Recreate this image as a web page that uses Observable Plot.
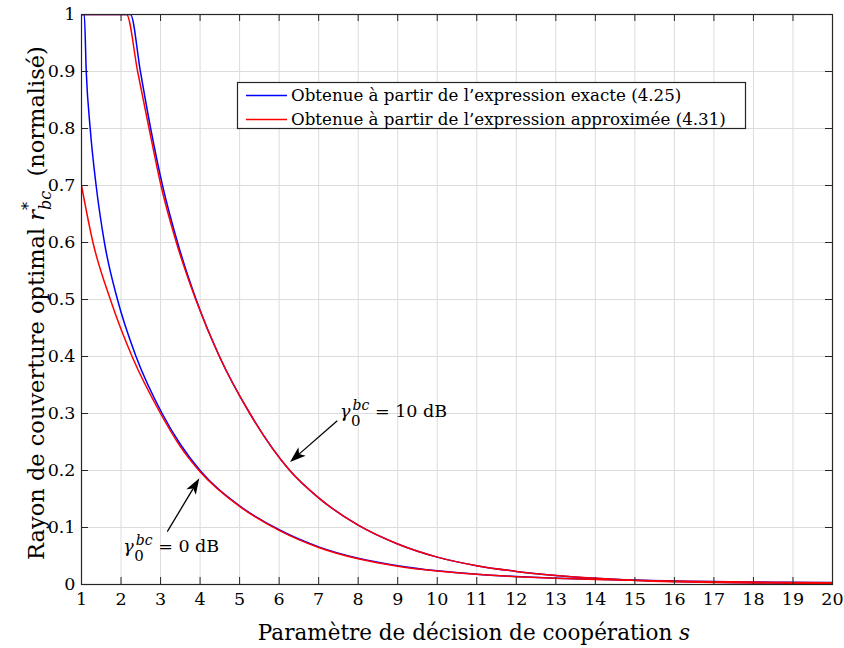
<!DOCTYPE html>
<html>
<head>
<meta charset="utf-8">
<script src="https://cdn.jsdelivr.net/npm/d3@7"></script>
<script src="https://cdn.jsdelivr.net/npm/@observablehq/plot@0.6"></script>
<style>
  html, body { margin: 0; padding: 0; background: #fff; }
  #chart { width: 844px; height: 648px; }
</style>
</head>
<body>
<div id="chart"></div>
<script>
// ---- ticks ----
const xTicks = [1,2,3,4,5,6,7,8,9,10,11,12,13,14,15,16,17,18,19,20];
const yTicks = [0,0.1,0.2,0.3,0.4,0.5,0.6,0.7,0.8,0.9,1];
const yTickLabels = ["0","0.1","0.2","0.3","0.4","0.5","0.6","0.7","0.8","0.9","1"];

// ---- gamma = 0 dB, exact expression (4.25) ----
const s_exact_0dB = [1,1.07,1.12,1.22,1.37,1.58,1.91,2.38,3.04,3.5,4,5,6,7,8,9,10,11,12,13,14,15,16,17,18,19,20];
const r_exact_0dB = [1,1,0.9,0.8,0.7,0.6,0.5,0.4,0.3,0.246,0.2,0.138,0.096,0.066,0.046,0.033,0.024,0.018,0.014,0.011,0.009,0.0075,0.0062,0.0052,0.0044,0.0038,0.0033];

// ---- gamma = 0 dB, approximate expression (4.31) ----
const s_approx_0dB = [1,1.29,1.73,2.28,3,3.5,4,5,6,7,8,9,10,11,12,13,14,15,16,17,18,19,20];
const r_approx_0dB = [0.7,0.6,0.5,0.4,0.3,0.242,0.198,0.137,0.095,0.065,0.045,0.032,0.0235,0.0178,0.0138,0.0108,0.0088,0.0073,0.006,0.005,0.0043,0.0037,0.0032];

// ---- gamma = 10 dB, exact expression (4.25) ----
const s_exact_10dB = [1,2.24,2.49,2.75,3.05,3.43,3.9,4.49,5.26,6.27,7,8,9,10,11,12,13,14,15,16,17,18,19,20];
const r_exact_10dB = [1,1,0.9,0.8,0.7,0.6,0.5,0.4,0.3,0.2,0.152,0.104,0.071,0.048,0.033,0.023,0.016,0.011,0.0075,0.0053,0.004,0.003,0.0024,0.002];

// ---- gamma = 10 dB, approximate expression (4.31) ----
const s_approx_10dB = [1,2.14,2.42,2.71,3.01,3.4,3.89,4.49,5.26,6.27,7,8,9,10,11,12,13,14,15,16,17,18,19,20];
const r_approx_10dB = [1,1,0.9,0.8,0.7,0.6,0.5,0.4,0.3,0.2,0.152,0.104,0.071,0.048,0.033,0.023,0.016,0.0108,0.0072,0.005,0.0037,0.0028,0.0022,0.0018];

// ---- legend / annotations ----
const legendLabels = ["Obtenue à partir de l’expression exacte (4.25)", "Obtenue à partir de l’expression approximée (4.31)"];
const seriesColors = ["#0000ff", "#ff0000"];
const annotRest = [" = 0 dB", " = 10 dB"];
const annotAt_s = [2.07, 7.553];
const annotAt_r = [0.0567, 0.293];
const arrowFrom_s = [3.183, 7.484];
const arrowFrom_r = [0.0918, 0.2865];
const arrowTo_s = [3.993, 6.288];
const arrowTo_r = [0.1854, 0.214];
const xLabel = "Paramètre de décision de coopération ";

function rows(s, r, series) { return s.map((v, i) => ({s: v, r: r[i], series})); }
const blueRows = [...rows(s_exact_0dB, r_exact_0dB, "0dB"), ...rows(s_exact_10dB, r_exact_10dB, "10dB")];
const redRows = [...rows(s_approx_0dB, r_approx_0dB, "0dB"), ...rows(s_approx_10dB, r_approx_10dB, "10dB")];

const W = 844, H = 648, mL = 81, mR = 12, mT = 14, mB = 64;
const plotW = W - mL - mR, plotH = H - mT - mB;
const FONT = "'DejaVu Serif', 'Liberation Serif', serif";
const INK = "#262626";

const plot = Plot.plot({
  width: W, height: H,
  marginLeft: mL, marginRight: mR, marginTop: mT, marginBottom: mB,
  style: {fontFamily: FONT, fontSize: "17.5px", color: "#000", background: "#fff", overflow: "visible"},
  x: {domain: [1, 20], label: null},
  y: {domain: [0, 1], label: null},
  marks: [
    Plot.ruleX(xTicks, {x: d => d, stroke: "#dcdcdc", strokeWidth: 1}),
    Plot.ruleY(yTicks, {y: d => d, stroke: "#dcdcdc", strokeWidth: 1}),
    Plot.line(blueRows, {x: "s", y: "r", z: "series", stroke: seriesColors[0], strokeWidth: 1.5, curve: "monotone-x", clip: true}),
    Plot.line(redRows, {x: "s", y: "r", z: "series", stroke: seriesColors[1], strokeWidth: 1.5, curve: "monotone-x", clip: true}),
    Plot.tickX(xTicks, {x: d => d, insetTop: plotH - 7, stroke: INK}),
    Plot.tickX(xTicks, {x: d => d, insetBottom: plotH - 7, stroke: INK}),
    Plot.tickY(yTicks, {y: d => d, insetRight: plotW - 7, stroke: INK}),
    Plot.tickY(yTicks, {y: d => d, insetLeft: plotW - 7, stroke: INK}),
    Plot.axisX(xTicks, {tickSize: 0, tickPadding: 8, label: null, fill: "#000"}),
    Plot.axisY(yTicks, {tickSize: 0, tickPadding: 6, label: null, fill: "#000",
      tickFormat: d => yTickLabels[yTicks.indexOf(d)]}),
    Plot.frame({stroke: INK, strokeWidth: 1.2})
  ]
});

document.getElementById("chart").appendChild(plot);

const svg = d3.select(plot);
const sx = plot.scale("x"), sy = plot.scale("y");

// ---- axis titles ----
svg.append("text")
  .attr("x", 474).attr("y", 640)
  .attr("text-anchor", "middle")
  .style("font-family", FONT).style("font-size", "21.5px").attr("fill", "#000")
  .call(t => {
    t.append("tspan").text(xLabel);
    t.append("tspan").style("font-style", "italic").text("s");
  });

const yl = svg.append("text")
  .attr("transform", `translate(44,${mT + plotH / 2 + 4}) rotate(-90)`)
  .attr("text-anchor", "middle")
  .style("font-family", FONT).style("font-size", "22.5px").attr("fill", "#000");
yl.append("tspan").text("Rayon de couverture optimal ");
yl.append("tspan").style("font-style", "italic").text("r");
yl.append("tspan").attr("dy", -10).style("font-size", "16px").text("*");
yl.append("tspan").attr("dx", -8).attr("dy", 17).style("font-style", "italic").style("font-size", "16px").text("bc");
yl.append("tspan").attr("dy", -7).text("\u00a0 (normalisé)");

// ---- legend ----
const lg = svg.append("g").attr("text-anchor", "start");
lg.append("rect").attr("x", 237.5).attr("y", 82.5).attr("width", 508).attr("height", 46)
  .attr("fill", "#fff").attr("stroke", INK).attr("stroke-width", 1.2);
legendLabels.forEach((lab, i) => {
  const yy = 95.5 + i * 24;
  lg.append("line").attr("x1", 246).attr("x2", 287).attr("y1", yy).attr("y2", yy)
    .attr("stroke", seriesColors[i]).attr("stroke-width", 1.5);
  lg.append("text").attr("x", 291).attr("y", yy + 5.5).attr("text-anchor", "start")
    .style("font-family", FONT).style("font-size", "16.7px").attr("fill", "#000").text(lab);
});

// ---- arrows ----
function arrow(x1, y1, x2, y2) {
  const dx = x2 - x1, dy = y2 - y1, L = Math.hypot(dx, dy);
  const ux = dx / L, uy = dy / L, px = -uy, py = ux;
  const hl = 16, hw = 5.5, notch = 4;
  const bx = x2 - ux * hl, by = y2 - uy * hl;
  svg.append("line").attr("x1", x1).attr("y1", y1).attr("x2", bx + ux * notch).attr("y2", by + uy * notch)
    .attr("stroke", "#000").attr("stroke-width", 1.3);
  const pts = [[x2, y2], [bx + px * hw, by + py * hw], [bx + ux * notch, by + uy * notch], [bx - px * hw, by - py * hw]];
  svg.append("polygon").attr("points", pts.map(p => p.join(",")).join(" ")).attr("fill", "#000");
}
for (let i = 0; i < arrowFrom_s.length; i++) {
  arrow(sx.apply(arrowFrom_s[i]), sy.apply(arrowFrom_r[i]), sx.apply(arrowTo_s[i]), sy.apply(arrowTo_r[i]));
}

// ---- gamma labels ----
for (let i = 0; i < annotRest.length; i++) {
  const t = svg.append("text")
    .attr("x", sx.apply(annotAt_s[i])).attr("y", sy.apply(annotAt_r[i]))
    .attr("text-anchor", "start")
    .style("font-family", FONT).style("font-size", "17.5px").attr("fill", "#000");
  t.append("tspan").style("font-style", "italic").text("γ");
  t.append("tspan").attr("dy", 9).attr("dx", 0.5).style("font-size", "15px").text("0");
  t.append("tspan").attr("dx", -8).attr("dy", -16).style("font-style", "italic").style("font-size", "14px").text("bc");
  t.append("tspan").attr("dy", 7).text(annotRest[i]);
}
</script>
</body>
</html>
